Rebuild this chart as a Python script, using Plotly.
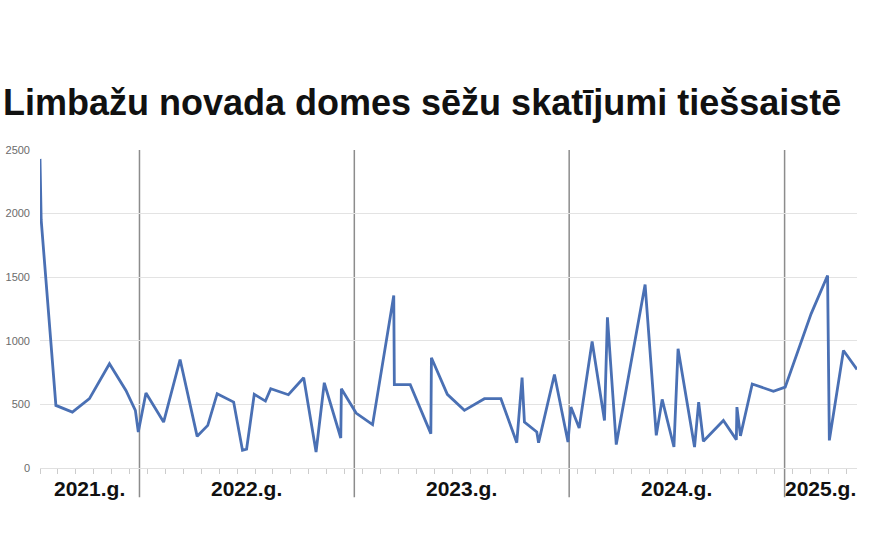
import plotly.graph_objects as go
import pandas as pd

# Meeting dates
dates = [
    "2021-07-16", "2021-07-18", "2021-08-12", "2021-09-09", "2021-10-08", "2021-11-11",
    "2021-12-09", "2021-12-25", "2021-12-30",
    "2022-01-12", "2022-02-11", "2022-03-11", "2022-04-09", "2022-04-27", "2022-05-13",
    "2022-06-10", "2022-06-25", "2022-07-02", "2022-07-15", "2022-08-03", "2022-08-12",
    "2022-09-11", "2022-10-07", "2022-10-28", "2022-11-11", "2022-12-09", "2022-12-10",
    "2023-01-04", "2023-02-01", "2023-03-09", "2023-03-10", "2023-04-06", "2023-05-11",
    "2023-05-12", "2023-06-08", "2023-07-07", "2023-08-10", "2023-09-07", "2023-10-04",
    "2023-10-13", "2023-10-17", "2023-11-07", "2023-11-10", "2023-12-07", "2023-12-30",
    "2024-01-04", "2024-01-18", "2024-02-09", "2024-03-01", "2024-03-06", "2024-03-21",
    "2024-05-09", "2024-05-28", "2024-06-07", "2024-06-27", "2024-07-04", "2024-08-01",
    "2024-08-08", "2024-08-16", "2024-09-19", "2024-10-11", "2024-10-12", "2024-10-18",
    "2024-11-07", "2024-12-13",
    "2025-01-02", "2025-02-15", "2025-03-15", "2025-03-18", "2025-04-11", "2025-05-04",
]

# Views per meeting
views = [
    2430, 1950, 492, 440, 545, 820, 610, 453, 283,
    589, 361, 853, 249, 335, 584, 518, 139, 149, 579, 526, 623,
    576, 710, 126, 670, 236, 623,
    432, 341, 1356, 655, 655, 270, 867, 579, 453, 545, 545, 199,
    710, 361, 283, 199, 735, 204,
    479, 314, 995, 374, 1185, 184, 1442, 257, 539, 165, 937, 165,
    518, 210, 374, 223, 479, 253, 660, 603,
    636, 1212, 1513, 217, 924, 775,
]

year_labels = ["2021.g.", "2022.g.", "2023.g.", "2024.g.", "2025.g."]
year_starts = ["2022-01-01", "2023-01-01", "2024-01-01", "2025-01-01"]

title_text = "Limbažu novada domes sēžu skatījumi tiešsaistē"
y_ticks = [0, 500, 1000, 1500, 2000, 2500]

FONT = "Liberation Sans, Arial, sans-serif"
x_start = pd.Timestamp(dates[0])
x_end = pd.Timestamp(dates[-1])

fig = go.Figure()
fig.add_trace(go.Scatter(
    x=dates, y=views, mode="lines",
    line=dict(color="#4a70b4", width=2.8),
    hoverinfo="x+y", showlegend=False,
))

# year separators
for ys in year_starts:
    fig.add_shape(type="line", xref="x", yref="paper",
                  x0=ys, x1=ys, y0=-0.092, y1=1,
                  line=dict(color="#8c8c8c", width=1.5), layer="below")

# year labels centered in segments
bounds = [x_start] + [pd.Timestamp(s) for s in year_starts] + [x_end]
for i, lab in enumerate(year_labels):
    mid = bounds[i] + (bounds[i + 1] - bounds[i]) / 2
    fig.add_annotation(x=mid, xref="x", y=-0.066, yref="paper",
                       text=f"<b>{lab}</b>", showarrow=False,
                       xanchor="center", yanchor="middle",
                       font=dict(family=FONT, size=21, color="#111"))

fig.update_layout(
    width=870, height=548,
    margin=dict(l=40, r=13, t=150, b=80),
    paper_bgcolor="white", plot_bgcolor="white",
    font=dict(family=FONT),
    title=dict(text=f"<b>{title_text}</b>", x=3 / 870, xanchor="left", xref="container",
               y=1 - 102 / 548, yanchor="middle", yref="container",
               font=dict(family=FONT, size=36, color="#111")),
    xaxis=dict(type="date", range=[x_start, x_end], showgrid=False, zeroline=False,
               showticklabels=False, ticks="outside", ticklen=5, tickcolor="#cccccc",
               tick0=dates[0], dtick=30.44 * 86400000, automargin=False,
               showline=True, linecolor="#e0e0e0", linewidth=1),
    yaxis=dict(range=[0, 2500], tickvals=y_ticks, showgrid=True, gridcolor="#e3e3e3",
               gridwidth=1, zeroline=False, showline=False, ticks="",
               ticklabelstandoff=9, automargin=False,
               tickfont=dict(size=11, color="#6b6b6b")),
)

fig.write_html("out.html", config={"displayModeBar": False},
               post_script="document.body.style.margin='0';")
